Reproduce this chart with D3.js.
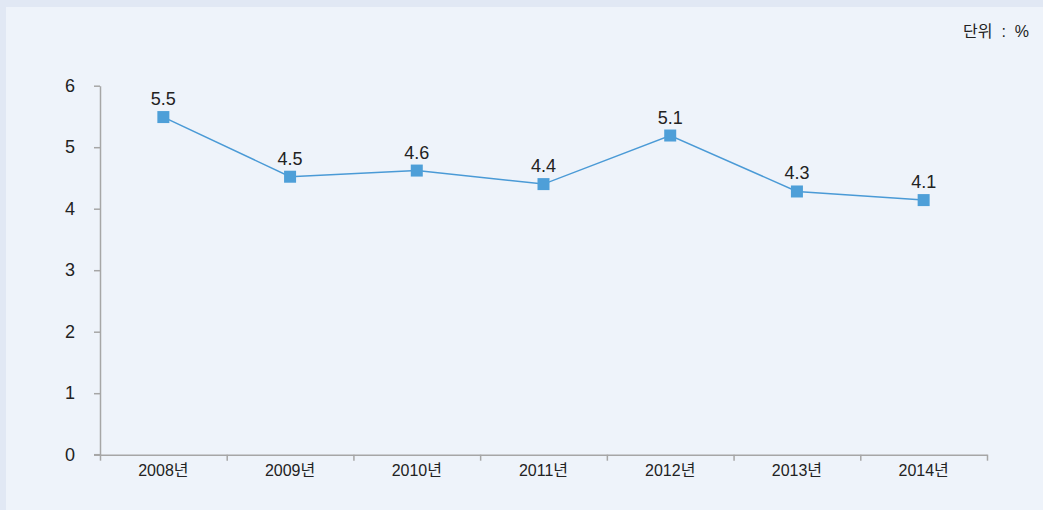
<!DOCTYPE html>
<html>
<head>
<meta charset="utf-8">
<script src="https://cdn.jsdelivr.net/npm/d3@7"></script>
<style>
  body { margin: 0; background: #e1e8f4; }
  svg { display: block; }
  text { font-family: "Liberation Sans", "Noto Sans CJK KR", sans-serif; fill: #222; }
</style>
</head>
<body>
<div id="chart"></div>
<script>
var years = ["2008년", "2009년", "2010년", "2011년", "2012년", "2013년", "2014년"];
var rates = [5.49, 4.52, 4.62, 4.40, 5.19, 4.28, 4.14];
var rateLabels = ["5.5", "4.5", "4.6", "4.4", "5.1", "4.3", "4.1"];
var yTicks = [0, 1, 2, 3, 4, 5, 6];

var width = 1043, height = 510;
var svg = d3.select("#chart").append("svg").attr("width", width).attr("height", height);

// panel
svg.append("rect").attr("x", 6).attr("y", 7).attr("width", width - 6).attr("height", height - 7)
    .attr("fill", "#eef3fa");

svg.append("text")
    .attr("x", 1029).attr("y", 37)
    .attr("text-anchor", "end")
    .style("font-size", "16px")
    .style("white-space", "pre")
    .text("단위  :  %");

var plotLeft = 100, plotRight = 987, plotTop = 85.7, plotBottom = 454.7;

var x_scale = d3.scaleBand().domain(years).range([plotLeft, plotRight]).padding(0);
var y_scale = d3.scaleLinear().domain([0, 6]).range([plotBottom, plotTop]);
var idx_scale = d3.scaleLinear().domain([0, years.length]).range([plotLeft, plotRight]);

// y axis
var y_axis = d3.axisLeft(y_scale).tickValues(yTicks).tickFormat(d3.format("d"))
    .tickSize(6).tickSizeOuter(0).tickPadding(19);
var gy = svg.append("g").attr("transform", "translate(" + plotLeft + ",0)").call(y_axis);
gy.selectAll("text").style("font-size", "18px");

// x axis: boundary ticks
var x_ticks = d3.axisBottom(idx_scale).tickValues(d3.range(years.length + 1)).tickSize(6)
    .tickSizeOuter(0).tickFormat("");
svg.append("g").attr("transform", "translate(0," + plotBottom + ")").call(x_ticks);

// x axis: labels
var x_axis = d3.axisBottom(x_scale).tickSize(0).tickPadding(10);
var gx = svg.append("g").attr("transform", "translate(0," + plotBottom + ")").call(x_axis);
gx.select(".domain").remove();
gx.selectAll("text").style("font-size", "16px");

// extend x axis slightly left past y axis
svg.append("line").attr("x1", 94).attr("x2", plotLeft).attr("y1", plotBottom).attr("y2", plotBottom);

svg.selectAll(".domain, .tick line, line")
    .attr("stroke", "#a6a6a6").attr("stroke-width", 1.5);

// line
var line = d3.line()
    .x(function (d, i) { return x_scale(years[i]) + x_scale.bandwidth() / 2; })
    .y(function (d) { return y_scale(d); });

svg.append("path").datum(rates)
    .attr("d", line)
    .attr("fill", "none")
    .attr("stroke", "#4a9ad6")
    .attr("stroke-width", 1.5);

svg.selectAll(".marker").data(rates).enter().append("rect")
    .attr("class", "marker")
    .attr("x", function (d, i) { return x_scale(years[i]) + x_scale.bandwidth() / 2 - 6; })
    .attr("y", function (d) { return y_scale(d) - 6; })
    .attr("width", 12).attr("height", 12)
    .attr("fill", "#4e9fd8");

svg.selectAll(".vlabel").data(rates).enter().append("text")
    .attr("class", "vlabel")
    .attr("x", function (d, i) { return x_scale(years[i]) + x_scale.bandwidth() / 2; })
    .attr("y", function (d) { return y_scale(d) - 12; })
    .attr("text-anchor", "middle")
    .style("font-size", "18px")
    .text(function (d, i) { return rateLabels[i]; });
</script>
</body>
</html>
